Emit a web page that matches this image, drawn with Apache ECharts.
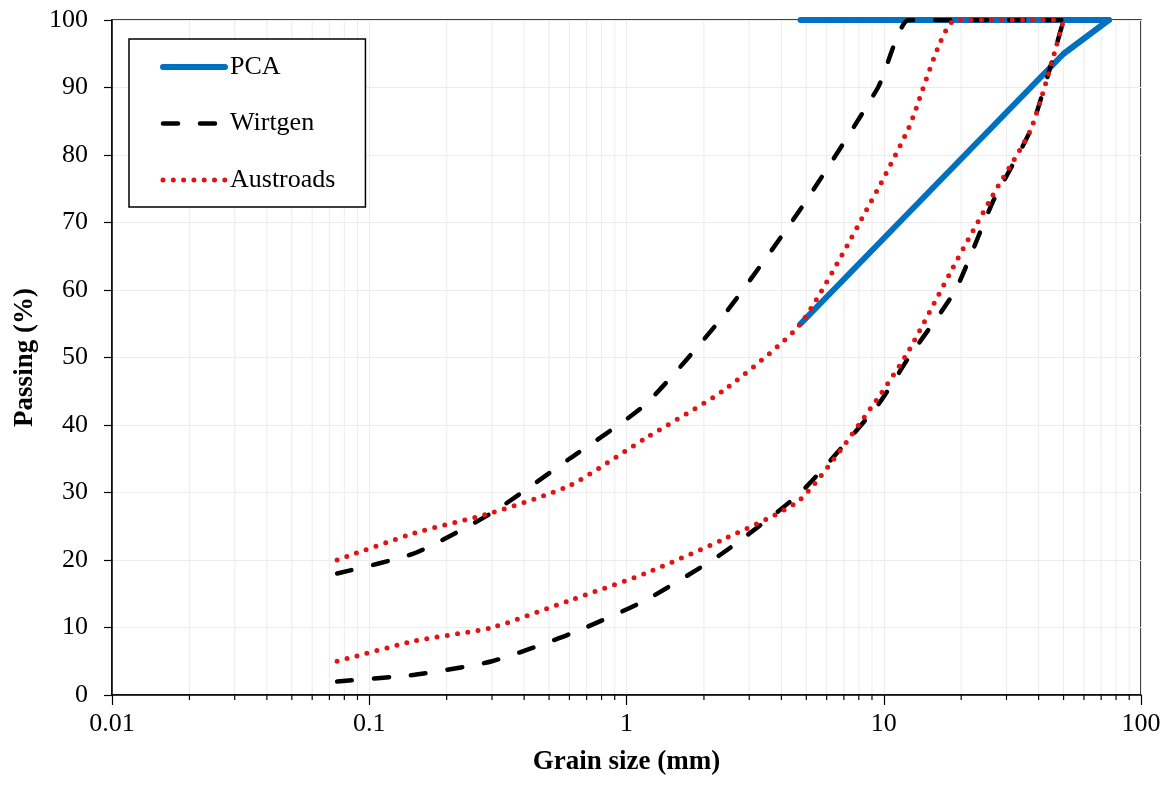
<!DOCTYPE html>
<html>
<head>
<meta charset="utf-8">
<title>Grain size distribution</title>
<script src="https://cdn.jsdelivr.net/npm/echarts@6/dist/echarts.min.js"></script>
<style>
    html, body { margin: 0; padding: 0; background: #fff; }
    #chart { width: 1176px; height: 787px; }
</style>
</head>
<body>
<div id="chart"></div>
<script>
// sieve sizes (mm) used by the envelopes
var sieves = [0.075, 0.15, 0.3, 0.6, 1.18, 2.36, 4.75, 9.5, 12.5, 19, 26.5, 37.5, 50];

// Wirtgen envelope (% passing)
var wirtgenUpper = [18, 21, 27, 35, 43, 56, 72, 90, 100, 100, 100, 100, 100];
var wirtgenLower = [2, 3, 5, 9, 14, 21, 30, 43, 50, 60, 73, 84, 100];

// Austroads envelope (% passing)
var austroadsUpper = [20, 24, 27, 31, 38, 45, 55, 75, 84, 100, 100, 100, 100];
var austroadsLower = [5, 8, 10, 14, 18, 23, 29, 44, 51, 64, 74, 84, 100];

// PCA envelope
var pcaSizes = [4.75, 50, 75];
var pcaUpper = [100, 100, 100];
var pcaLower = [55, 95, 100];

// minor log ticks 2..9 in each decade
var minorTicks = [0.02, 0.03, 0.04, 0.05, 0.06, 0.07, 0.08, 0.09,
    0.2, 0.3, 0.4, 0.5, 0.6, 0.7, 0.8, 0.9,
    2, 3, 4, 5, 6, 7, 8, 9,
    20, 30, 40, 50, 60, 70, 80, 90];

var font = 'Liberation Serif';
var gridColor = '#ececec';

function pairs(xs, ys) {
    var out = [];
    for (var i = 0; i < xs.length; i++) {
        out.push([xs[i], ys[i]]);
    }
    return out;
}

var myChart = echarts.init(document.getElementById('chart'));

var pcaStyle = { color: '#0070c0', width: 6, cap: 'round' };
var wirtStyle = { color: '#000000', width: 4.5, type: [15, 22], cap: 'round' };
var austStyle = { color: '#e01414', width: 5, type: [0, 10.3], cap: 'round' };
// hide the symbol ECharts puts in the middle of legend lines
var noSymbol = { color: 'rgba(0,0,0,0)', borderWidth: 0, opacity: 0 };

// minor gridlines + small ticks under the x axis
function renderMinor(params, api) {
    var v = api.value(0);
    var b = api.coord([v, 0]);
    var t = api.coord([v, 100]);
    return {
        type: 'group',
        children: [
            {
                type: 'line',
                shape: { x1: b[0], y1: b[1] - 1, x2: t[0], y2: t[1] + 1 },
                style: { stroke: gridColor, lineWidth: 1 }
            },
            {
                type: 'line',
                shape: { x1: b[0], y1: b[1], x2: b[0], y2: b[1] + 5 },
                style: { stroke: '#000', lineWidth: 1.2 }
            }
        ]
    };
}

var option = {
    animation: false,
    backgroundColor: '#fff',
    grid: {
        left: 112,
        right: 35,
        top: 20,
        bottom: 92,
        show: true,
        borderColor: '#000',
        borderWidth: 1.5
    },
    legend: {
        orient: 'vertical',
        left: 129,
        top: 39,
        padding: [15, 30, 14, 31],
        itemWidth: 62,
        itemHeight: 26,
        itemGap: 30.5,
        backgroundColor: '#fff',
        borderColor: '#000',
        borderWidth: 1.5,
        borderRadius: 0,
        z: 10,
        textStyle: { fontFamily: font, fontSize: 26, color: '#000' },
        data: [
            { name: 'PCA', lineStyle: pcaStyle, itemStyle: noSymbol },
            { name: 'Wirtgen', lineStyle: wirtStyle, itemStyle: noSymbol },
            { name: 'Austroads', lineStyle: austStyle, itemStyle: noSymbol }
        ]
    },
    xAxis: {
        type: 'log',
        logBase: 10,
        min: 0.01,
        max: 100,
        name: 'Grain size (mm)',
        nameLocation: 'middle',
        nameGap: 54,
        nameTextStyle: { fontFamily: font, fontSize: 27, fontWeight: 'bold', color: '#000' },
        axisLine: { lineStyle: { color: '#000', width: 1.5 } },
        axisTick: { show: true, inside: false, length: 10, lineStyle: { color: '#000', width: 1.2 } },
        axisLabel: { fontFamily: font, fontSize: 26, color: '#000', margin: 16 },
        splitLine: { show: true, lineStyle: { color: gridColor, width: 1 } }
    },
    yAxis: {
        type: 'value',
        min: 0,
        max: 100,
        interval: 10,
        name: 'Passing (%)',
        nameLocation: 'middle',
        nameGap: 72,
        nameTextStyle: { fontFamily: font, fontSize: 27, fontWeight: 'bold', color: '#000' },
        axisLine: { show: true, lineStyle: { color: '#000', width: 1.5 } },
        axisTick: { show: true, inside: false, length: 8, lineStyle: { color: '#000', width: 1.2 } },
        axisLabel: { fontFamily: font, fontSize: 26, color: '#000', margin: 24 },
        splitLine: { show: true, lineStyle: { color: gridColor, width: 1 } }
    },
    series: [
        {
            name: 'minor',
            type: 'custom',
            renderItem: renderMinor,
            silent: true,
            clip: false,
            encode: { x: 0, y: 1 },
            data: minorTicks.map(function (v) { return [v, 0]; })
        },
        {
            name: 'PCA', type: 'line', symbol: 'none',
            lineStyle: pcaStyle, itemStyle: { color: pcaStyle.color },
            data: pairs(pcaSizes, pcaUpper)
        },
        {
            name: 'PCA', type: 'line', symbol: 'none',
            lineStyle: pcaStyle, itemStyle: { color: pcaStyle.color },
            data: pairs(pcaSizes, pcaLower)
        },
        {
            name: 'Wirtgen', type: 'line', symbol: 'none', smooth: 0.2,
            lineStyle: wirtStyle, itemStyle: { color: wirtStyle.color },
            data: pairs(sieves, wirtgenUpper)
        },
        {
            name: 'Wirtgen', type: 'line', symbol: 'none', smooth: 0.2,
            lineStyle: wirtStyle, itemStyle: { color: wirtStyle.color },
            data: pairs(sieves, wirtgenLower)
        },
        {
            name: 'Austroads', type: 'line', symbol: 'none', smooth: 0.2,
            lineStyle: austStyle, itemStyle: { color: austStyle.color },
            data: pairs(sieves, austroadsUpper)
        },
        {
            name: 'Austroads', type: 'line', symbol: 'none', smooth: 0.2,
            lineStyle: austStyle, itemStyle: { color: austStyle.color },
            data: pairs(sieves, austroadsLower)
        }
    ]
};

myChart.setOption(option, true);
</script>
</body>
</html>
